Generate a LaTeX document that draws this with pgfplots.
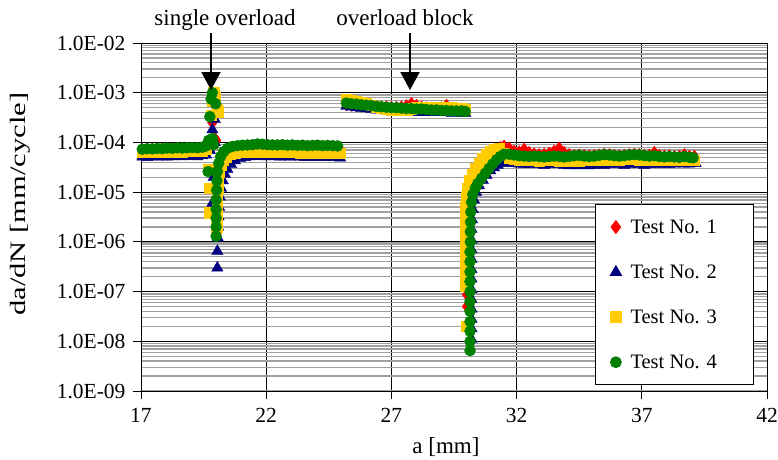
\documentclass[border=0pt]{standalone}
\usepackage{pgfplots}
\pgfplotsset{compat=1.18}
\usepackage{fontspec}
\setmainfont{Liberation Serif}
\usepackage{graphicx}
\usetikzlibrary{arrows.meta}
\definecolor{tred}{RGB}{255,0,0}
\definecolor{tblue}{RGB}{0,0,128}
\definecolor{tyellow}{RGB}{255,204,0}
\definecolor{tgreen}{RGB}{0,128,0}
\definecolor{mingrid}{RGB}{160,160,160}
\begin{document}
\begin{tikzpicture}
\path[use as bounding box] (-141pt,-68pt) rectangle (637pt,391pt);
\begin{axis}[
 at={(0pt,0pt)}, anchor=south west,
 scale only axis, width=626pt, height=348pt,
 xmin=17, xmax=42, ymin=1e-9, ymax=1e-2, ymode=log,
 xtick={17,22,27,32,37,42}, xticklabels={17,22,27,32,37,42},
 ytick={1e-9,1e-8,1e-7,1e-6,1e-5,1e-4,1e-3,1e-2},
 yticklabels={1.0E-09,1.0E-08,1.0E-07,1.0E-06,1.0E-05,1.0E-04,1.0E-03,1.0E-02},
 tick pos=left, tick align=outside, major tick length=8pt, minor tick length=0pt,
 xmajorgrids, ymajorgrids, yminorgrids,
 major grid style={black, line width=0.8pt},
 minor grid style={mingrid, line width=1.3pt},
 axis line style={black, line width=0.8pt},
 tick style={black, line width=0.8pt},
 ticklabel style={font=\fontsize{21.5}{24}\selectfont},
 xticklabel style={yshift=-6pt},
 yticklabel style={xshift=-4pt},
 clip=false,
 legend style={at={(0.725,0.537)}, anchor=north west, draw=black, line width=0.8pt, fill=white,
   font=\fontsize{20.5}{24}\selectfont, row sep=26pt, inner xsep=15pt, inner ysep=13pt,
   /tikz/every odd column/.append style={column sep=7pt}},
 legend cell align=left,
]
\addplot[only marks, mark=diamond*, mark size=6.5pt, mark options={fill=tred, draw=tred}] table {
x y
17.05 7.0e-5
17.25 7.1e-5
17.45 7.2e-5
17.65 7.1e-5
17.85 7.3e-5
18.05 7.2e-5
18.25 7.3e-5
18.45 7.4e-5
18.65 7.3e-5
18.85 7.4e-5
19.05 7.5e-5
19.25 7.4e-5
19.45 7.6e-5
19.6 8.0e-5
19.75 1.0e-4
19.85 2.5e-4
19.9 6.0e-4
19.95 1.2e-4
20.0 1.1e-4
20.02 1.5e-6
20.02 2.5e-6
20.02 4.0e-6
20.03 6.5e-6
20.05 1.0e-5
20.07 1.6e-5
20.1 2.4e-5
20.15 3.4e-5
20.22 4.6e-5
20.35 5.8e-5
20.5 6.8e-5
20.7 7.5e-5
20.9 7.8e-5
21.1 8.0e-5
21.3 8.1e-5
21.5 8.3e-5
21.7 8.2e-5
21.9 8.1e-5
22.1 8.2e-5
22.3 8.0e-5
22.5 8.1e-5
22.7 8.2e-5
22.9 8.0e-5
23.1 8.1e-5
23.3 7.9e-5
23.5 8.0e-5
23.7 7.9e-5
23.9 8.0e-5
24.1 8.1e-5
24.3 7.9e-5
24.5 8.0e-5
24.7 7.8e-5
24.95 7.0e-5
25.2 5.8e-4
25.4 5.7e-4
25.6 5.6e-4
25.8 5.5e-4
26.0 5.4e-4
26.2 5.3e-4
26.4 5.2e-4
26.6 5.1e-4
26.8 5.1e-4
27.0 5.0e-4
27.2 5.0e-4
27.4 5.1e-4
27.6 5.4e-4
27.8 6.0e-4
28.0 5.5e-4
28.2 5.1e-4
28.4 4.9e-4
28.6 4.8e-4
28.8 4.8e-4
29.0 4.9e-4
29.2 5.5e-4
29.4 4.8e-4
29.6 4.7e-4
29.8 4.6e-4
29.95 4.5e-4
30.02 5.0e-8
30.02 8.6e-8
30.05 1.4e-7
30.08 2.2e-7
30.1 3.5e-7
30.1 5.5e-7
30.1 9.0e-7
30.12 1.4e-6
30.12 2.2e-6
30.13 3.5e-6
30.15 5.5e-6
30.2 8.0e-6
30.3 1.2e-5
30.45 1.8e-5
30.6 2.5e-5
30.75 3.3e-5
30.9 4.3e-5
31.05 5.5e-5
31.2 6.8e-5
31.35 7.8e-5
31.5 8.3e-5
31.7 7.6e-5
31.9 6.6e-5
32.1 6.4e-5
32.3 7.2e-5
32.5 6.2e-5
32.7 5.8e-5
32.9 5.6e-5
33.1 5.7e-5
33.3 6.0e-5
33.5 6.6e-5
33.7 7.6e-5
33.9 6.2e-5
34.1 5.6e-5
34.3 5.4e-5
34.5 5.5e-5
34.7 5.4e-5
34.9 5.3e-5
35.1 5.4e-5
35.3 5.5e-5
35.5 5.7e-5
35.7 5.6e-5
35.9 5.4e-5
36.1 5.3e-5
36.3 5.4e-5
36.5 5.6e-5
36.7 5.7e-5
36.9 5.6e-5
37.1 5.4e-5
37.3 5.5e-5
37.5 6.2e-5
37.7 5.4e-5
37.9 5.2e-5
38.1 5.3e-5
38.3 5.1e-5
38.5 5.2e-5
38.7 5.6e-5
38.9 5.2e-5
39.1 5.2e-5
};
\addlegendentry{\makebox[106pt][l]{Test No. 1}}
\addplot[only marks, mark=triangle*, mark size=6.5pt, mark options={fill=tblue, draw=tblue}] table {
x y
17.05 5.1e-5
17.25 5.0e-5
17.45 5.2e-5
17.65 5.1e-5
17.85 5.2e-5
18.05 5.1e-5
18.25 5.2e-5
18.45 5.3e-5
18.65 5.2e-5
18.85 5.3e-5
19.05 5.3e-5
19.25 5.2e-5
19.45 5.4e-5
19.6 5.6e-5
19.75 7.0e-5
19.85 1.8e-4
19.95 2.9e-4
19.9 2.0e-5
19.85 6.0e-6
19.95 1.0e-4
20.05 3.0e-7
20.05 6.5e-7
20.07 1.2e-6
20.08 2.0e-6
20.1 3.2e-6
20.12 5.0e-6
20.15 8.0e-6
20.2 1.2e-5
20.27 1.7e-5
20.35 2.3e-5
20.45 2.9e-5
20.6 3.6e-5
20.75 4.3e-5
20.95 4.8e-5
21.15 5.0e-5
21.35 5.2e-5
21.55 5.3e-5
21.75 5.3e-5
21.95 5.2e-5
22.15 5.3e-5
22.35 5.2e-5
22.55 5.1e-5
22.75 5.2e-5
22.95 5.1e-5
23.15 5.2e-5
23.35 5.1e-5
23.55 5.0e-5
23.75 5.1e-5
23.95 5.0e-5
24.15 5.1e-5
24.35 5.0e-5
24.55 5.1e-5
24.75 5.0e-5
24.95 4.9e-5
25.2 5.4e-4
25.4 5.2e-4
25.6 5.0e-4
25.8 4.9e-4
26.0 4.8e-4
26.2 4.6e-4
26.4 4.5e-4
26.6 4.4e-4
26.8 4.3e-4
27.0 4.3e-4
27.2 4.2e-4
27.4 4.1e-4
27.6 4.1e-4
27.8 4.1e-4
28.0 4.0e-4
28.2 4.1e-4
28.4 4.0e-4
28.6 4.0e-4
28.8 4.1e-4
29.0 4.0e-4
29.2 4.0e-4
29.4 3.9e-4
29.6 4.0e-4
29.8 3.9e-4
29.95 3.9e-4
30.2 1.1e-8
30.2 1.8e-8
30.2 2.8e-8
30.2 4.5e-8
30.2 7.0e-8
30.2 1.1e-7
30.2 1.8e-7
30.2 2.8e-7
30.2 4.5e-7
30.2 7.0e-7
30.2 1.1e-6
30.2 1.8e-6
30.22 2.8e-6
30.25 4.5e-6
30.3 7.0e-6
30.38 1.0e-5
30.5 1.35e-5
30.65 1.75e-5
30.8 2.2e-5
30.95 2.7e-5
31.1 3.1e-5
31.25 3.5e-5
31.45 3.8e-5
31.7 3.9e-5
31.9 3.8e-5
32.1 3.7e-5
32.3 3.6e-5
32.5 3.6e-5
32.7 3.7e-5
32.9 3.6e-5
33.1 3.5e-5
33.3 3.6e-5
33.5 3.7e-5
33.7 3.6e-5
33.9 3.5e-5
34.1 3.4e-5
34.3 3.5e-5
34.5 3.4e-5
34.7 3.5e-5
34.9 3.4e-5
35.1 3.5e-5
35.3 3.6e-5
35.5 3.5e-5
35.7 3.6e-5
35.9 3.7e-5
36.1 3.6e-5
36.3 3.5e-5
36.5 3.6e-5
36.7 3.7e-5
36.9 3.6e-5
37.1 3.5e-5
37.3 3.6e-5
37.5 3.7e-5
37.7 3.6e-5
37.9 3.7e-5
38.1 3.6e-5
38.3 3.7e-5
38.5 3.8e-5
38.7 3.7e-5
38.9 3.7e-5
39.15 3.8e-5
};
\addlegendentry{\makebox[106pt][l]{Test No. 2}}
\addplot[only marks, mark=square*, mark size=5.3pt, mark options={fill=tyellow, draw=tyellow}] table {
x y
17.05 6.4e-5
17.25 6.5e-5
17.45 6.4e-5
17.65 6.5e-5
17.85 6.6e-5
18.05 6.5e-5
18.25 6.6e-5
18.45 6.7e-5
18.65 6.6e-5
18.85 6.7e-5
19.05 6.8e-5
19.25 6.7e-5
19.45 6.9e-5
19.6 7.5e-5
19.75 1.2e-5
19.75 3.9e-6
19.7 2.9e-5
19.8 9.5e-5
19.8 3.5e-4
19.85 7.0e-4
19.9 1.0e-3
19.95 8.0e-4
20.05 4.6e-4
20.08 4.2e-4
20.03 2.0e-6
20.03 3.0e-6
20.04 4.8e-6
20.05 7.5e-6
20.06 1.2e-5
20.08 1.8e-5
20.12 2.6e-5
20.18 3.5e-5
20.27 4.4e-5
20.4 5.2e-5
20.55 5.8e-5
20.75 6.2e-5
20.95 6.4e-5
21.15 6.5e-5
21.35 6.6e-5
21.55 6.7e-5
21.75 6.6e-5
21.95 6.5e-5
22.15 6.6e-5
22.35 6.5e-5
22.55 6.4e-5
22.75 6.5e-5
22.95 6.4e-5
23.15 6.5e-5
23.35 6.3e-5
23.55 6.4e-5
23.75 6.3e-5
23.95 6.4e-5
24.15 6.3e-5
24.35 6.2e-5
24.55 6.3e-5
24.75 6.2e-5
24.95 6.1e-5
25.2 7.2e-4
25.4 7.0e-4
25.6 6.7e-4
25.8 6.4e-4
26.0 6.0e-4
26.2 5.6e-4
26.4 5.3e-4
26.6 5.0e-4
26.8 4.8e-4
27.0 4.6e-4
27.2 4.5e-4
27.4 4.5e-4
27.6 4.6e-4
27.8 4.8e-4
28.0 5.0e-4
28.2 5.1e-4
28.4 5.1e-4
28.6 5.0e-4
28.8 4.9e-4
29.0 5.0e-4
29.2 5.1e-4
29.4 5.0e-4
29.6 4.9e-4
29.8 4.8e-4
29.95 4.7e-4
30.0 2.0e-8
29.95 1.3e-7
29.95 2.0e-7
29.95 3.2e-7
29.95 5.0e-7
29.95 8.0e-7
29.95 1.3e-6
29.95 2.0e-6
29.95 3.2e-6
29.96 5.0e-6
29.98 8.0e-6
30.02 1.2e-5
30.1 1.7e-5
30.22 2.3e-5
30.35 3.0e-5
30.5 3.8e-5
30.65 4.7e-5
30.8 5.7e-5
30.95 6.6e-5
31.1 7.3e-5
31.3 7.6e-5
31.5 6.0e-5
31.7 5.0e-5
31.9 4.6e-5
32.1 4.5e-5
32.3 4.4e-5
32.5 4.5e-5
32.7 4.4e-5
32.9 4.3e-5
33.1 4.4e-5
33.3 4.5e-5
33.5 4.4e-5
33.7 4.3e-5
33.9 4.2e-5
34.1 4.3e-5
34.3 4.4e-5
34.5 4.3e-5
34.7 4.4e-5
34.9 4.5e-5
35.1 4.4e-5
35.3 4.5e-5
35.5 4.6e-5
35.7 4.5e-5
35.9 4.4e-5
36.1 4.5e-5
36.3 4.6e-5
36.5 4.7e-5
36.7 4.6e-5
36.9 4.5e-5
37.1 4.4e-5
37.3 4.5e-5
37.5 4.6e-5
37.7 4.5e-5
37.9 4.4e-5
38.1 4.5e-5
38.3 4.4e-5
38.5 4.5e-5
38.7 4.6e-5
38.9 4.5e-5
39.1 4.4e-5
};
\addlegendentry{\makebox[106pt][l]{Test No. 3}}
\addplot[only marks, mark=*, mark size=5.5pt, mark options={fill=tgreen, draw=tgreen}] table {
x y
17.05 7.3e-5
17.25 7.5e-5
17.45 7.4e-5
17.65 7.6e-5
17.85 7.5e-5
18.05 7.7e-5
18.25 7.6e-5
18.45 7.8e-5
18.65 7.7e-5
18.85 7.8e-5
19.05 7.9e-5
19.25 7.8e-5
19.45 8.0e-5
19.6 8.5e-5
19.7 1.1e-4
19.75 3.3e-4
19.8 7.5e-4
19.85 1.0e-3
19.98 6.0e-4
19.85 1.2e-4
19.9 9.0e-5
19.68 2.6e-5
20.0 1.3e-6
20.0 2.0e-6
20.0 3.0e-6
20.0 4.5e-6
20.0 7.0e-6
20.02 1.1e-5
20.03 1.7e-5
20.05 2.6e-5
20.1 3.8e-5
20.18 5.2e-5
20.3 6.5e-5
20.45 7.6e-5
20.65 8.3e-5
20.85 8.6e-5
21.05 8.8e-5
21.25 8.9e-5
21.45 9.0e-5
21.65 9.3e-5
21.85 9.2e-5
22.05 9.0e-5
22.25 8.9e-5
22.45 8.9e-5
22.65 9.0e-5
22.85 8.8e-5
23.05 8.9e-5
23.25 8.7e-5
23.45 8.8e-5
23.65 8.6e-5
23.85 8.7e-5
24.05 8.8e-5
24.25 8.6e-5
24.45 8.7e-5
24.65 8.6e-5
24.85 8.5e-5
25.2 6.2e-4
25.4 6.0e-4
25.6 5.9e-4
25.8 5.7e-4
26.0 5.6e-4
26.2 5.5e-4
26.4 5.3e-4
26.6 5.2e-4
26.8 5.1e-4
27.0 5.0e-4
27.2 5.0e-4
27.4 4.9e-4
27.6 4.8e-4
27.8 4.8e-4
28.0 4.7e-4
28.2 4.7e-4
28.4 4.6e-4
28.6 4.5e-4
28.8 4.5e-4
29.0 4.4e-4
29.2 4.4e-4
29.4 4.3e-4
29.6 4.3e-4
29.8 4.3e-4
29.95 4.2e-4
30.14 6.5e-9
30.14 1.0e-8
30.14 1.6e-8
30.14 2.5e-8
30.14 4.0e-8
30.14 6.3e-8
30.14 1.0e-7
30.14 1.6e-7
30.14 2.5e-7
30.14 4.0e-7
30.14 6.3e-7
30.15 1.0e-6
30.15 1.6e-6
30.16 2.5e-6
30.17 4.0e-6
30.2 6.3e-6
30.25 9.0e-6
30.35 1.2e-5
30.45 1.5e-5
30.6 1.9e-5
30.75 2.4e-5
30.9 3.0e-5
31.05 3.7e-5
31.2 4.5e-5
31.35 5.2e-5
31.5 5.8e-5
31.7 5.8e-5
31.9 5.6e-5
32.1 5.4e-5
32.3 5.3e-5
32.5 5.2e-5
32.7 5.3e-5
32.9 5.2e-5
33.1 5.1e-5
33.3 5.2e-5
33.5 5.3e-5
33.7 5.2e-5
33.9 5.1e-5
34.1 5.2e-5
34.3 5.4e-5
34.5 5.5e-5
34.7 5.3e-5
34.9 5.2e-5
35.1 5.3e-5
35.3 5.5e-5
35.5 5.7e-5
35.7 5.6e-5
35.9 5.4e-5
36.1 5.3e-5
36.3 5.4e-5
36.5 5.6e-5
36.7 5.7e-5
36.9 5.6e-5
37.1 5.4e-5
37.3 5.3e-5
37.5 5.4e-5
37.7 5.2e-5
37.9 5.1e-5
38.1 5.2e-5
38.3 5.1e-5
38.5 5.0e-5
38.7 5.2e-5
38.9 5.0e-5
39.05 4.9e-5
};
\addlegendentry{\makebox[106pt][l]{Test No. 4}}
\end{axis}
\node[font=\fontsize{23}{26}\selectfont, anchor=base] at (84pt,366pt) {single overload};
\draw[line width=2pt, -{Triangle[width=19pt,length=18pt]}] (70pt,358pt) -- (70pt,301pt);
\node[font=\fontsize{23}{26}\selectfont, anchor=base] at (264pt,366pt) {overload block};
\draw[line width=2pt, -{Triangle[width=19pt,length=18pt]}] (269pt,358pt) -- (269pt,301pt);
\node[font=\fontsize{23}{26}\selectfont, anchor=base] at (305pt,-62pt) {a [mm]};
\node[font=\fontsize{22}{26}\selectfont, rotate=90] at (-121pt,187pt) {\scalebox{1.39}[1]{da/dN [mm/cycle]}};
\end{tikzpicture}
\end{document}
